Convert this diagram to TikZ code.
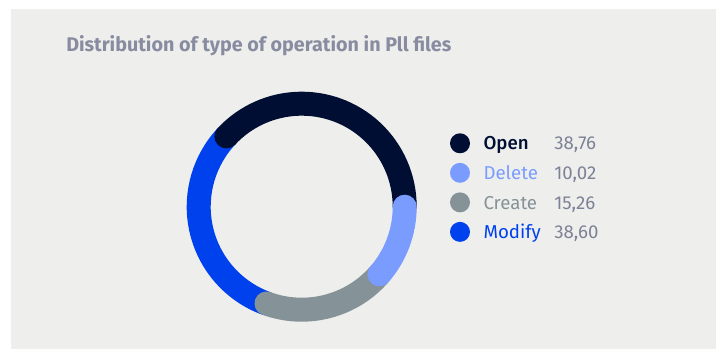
\documentclass[tikz,border=0pt]{standalone}
\usepackage{fontspec}
\setmainfont{Fira Sans}
\newfontfamily\medfont{Fira Sans Medium}
\usetikzlibrary{positioning}
\definecolor{mopen}{HTML}{000E33}
\definecolor{mdelete}{HTML}{7B9CFF}
\definecolor{mcreate}{HTML}{859398}
\definecolor{mmodify}{HTML}{0041EE}
\definecolor{mvalue}{HTML}{7D8296}
\definecolor{mtitle}{HTML}{878CA0}
\definecolor{mpanel}{HTML}{EEEFEC}
\tikzstyle{ring} = [line width=18pt, line cap=round]
\tikzstyle{legdot} = [circle, inner sep=0pt, minimum size=15pt]
\tikzstyle{leglabel} = [inner sep=0pt, text height=10pt, text depth=0pt, font=\fontsize{14}{16}\selectfont]
\tikzstyle{legvalue} = [leglabel, anchor=west, text=mvalue]

\begin{document}
\begin{tikzpicture}[x=0.75pt, y=0.75pt, node distance=6.75pt]
  \useasboundingbox (0,0) rectangle (721,349);
  \fill [mpanel] (11,0) rectangle (716,340);
  \node (title) [anchor=base west, inner sep=0pt, text=mtitle, font=\bfseries\fontsize{14.8}{17}\selectfont] at (66,297.3) {Distribution of type of operation in Pll files};
  % ring
  \coordinate (ctr) at (301.7,142.3);
  \draw [ring, mmodify] ([shift={(ctr)}]-110:103) arc[start angle=-110, end angle=-223, radius=103];
  \draw [ring, mcreate] ([shift={(ctr)}]-110:103) arc[start angle=-110, end angle=-41, radius=103];
  \draw [ring, mopen] ([shift={(ctr)}]137:103) arc[start angle=137, end angle=0, radius=103];
  \draw [ring, mdelete] ([shift={(ctr)}]0:103) arc[start angle=0, end angle=-41, radius=103];
  % legend
  \coordinate (valcol) at (554,0);
  \node (odot) [legdot, fill=mopen] at (460,205.7) {};
  \node (ddot) [legdot, fill=mdelete, below=of odot] {};
  \node (cdot) [legdot, fill=mcreate, below=of ddot] {};
  \node (mdot) [legdot, fill=mmodify, below=of cdot] {};
  \node (olab) [leglabel, right=9.75pt of odot, text=mopen, font=\medfont\fontsize{14}{16}\selectfont] {Open};
  \node (dlab) [leglabel, right=9.75pt of ddot, text=mdelete] {Delete};
  \node (clab) [leglabel, right=9.75pt of cdot, text=mcreate] {Create};
  \node (mlab) [leglabel, right=9.75pt of mdot, text=mmodify] {Modify};
  \node (oval) [legvalue] at (odot -| valcol) {38,76};
  \node (dval) [legvalue] at (ddot -| valcol) {10,02};
  \node (cval) [legvalue] at (cdot -| valcol) {15,26};
  \node (mval) [legvalue] at (mdot -| valcol) {38,60};
\end{tikzpicture}
\end{document}
